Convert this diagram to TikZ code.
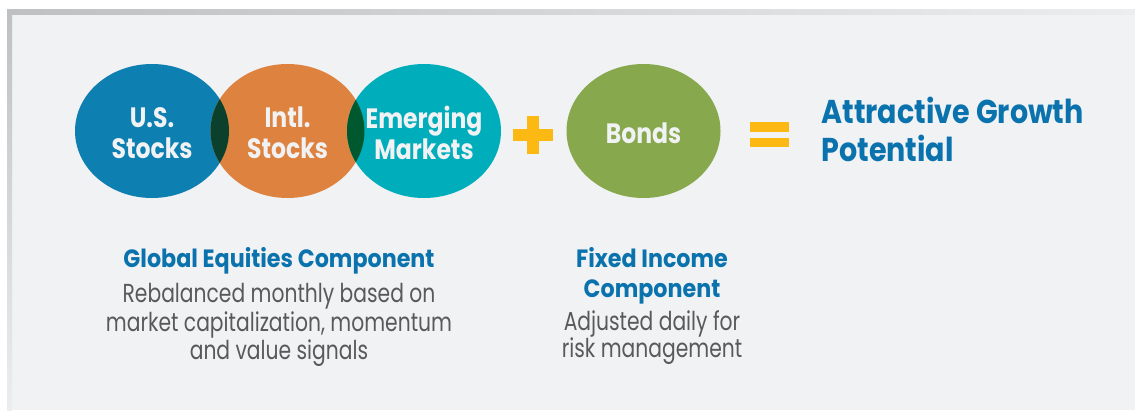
\documentclass[tikz,border=0pt]{standalone}
\usepackage{fontspec}
\usepackage[usenames,dvipsnames]{xcolor}
\setmainfont{Poppins}
\newfontfamily\circfont[FakeStretch=0.84]{Poppins}
\newfontfamily\headfont[FakeStretch=0.89]{Poppins}
\newfontfamily\titlefont[FakeStretch=0.865]{Poppins}
\newfontfamily\bodyfont[FakeStretch=0.78]{Poppins}
\usetikzlibrary{shapes.geometric}
\definecolor{panelgray}{HTML}{F1F2F4}
\definecolor{edgedark}{HTML}{BFC0C2}
\definecolor{edgelight}{HTML}{ECEDEF}
\definecolor{usblue}{HTML}{0D7FB1}
\definecolor{intlorange}{HTML}{DE8240}
\definecolor{emteal}{HTML}{00ADBB}
\definecolor{bondgreen}{HTML}{88A84E}
\definecolor{lensone}{HTML}{0B412C}
\definecolor{lenstwo}{HTML}{00582F}
\definecolor{signyellow}{HTML}{FDB913}
\definecolor{headblue}{HTML}{0A72AD}
\definecolor{bodygray}{HTML}{58595B}
\tikzset{
	fund/.style={ellipse, minimum width=154pt, minimum height=134pt, inner sep=0pt},
	fundtext/.style={align=center, yshift=-2pt, text=panelgray, font={\circfont\bfseries\fontsize{28}{31}\selectfont}},
	headline/.style={anchor=base, text=headblue, font={\headfont\bfseries\fontsize{25}{30}\selectfont}},
	bodyline/.style={anchor=base, text=bodygray, font={\bodyfont\fontsize{26}{28}\selectfont}},
	titleline/.style={anchor=base west, text=headblue, font={\titlefont\bfseries\fontsize{33}{38}\selectfont}}
}

\begin{document}
\begin{tikzpicture}[x=1pt, y=-1pt]
		\useasboundingbox[fill=white] (0, 0) rectangle (1135, 410);
		\fill[panelgray] (7, 9) rectangle (1135, 410);
		\shade[left color=edgedark, right color=edgelight] (7, 9) rectangle (1135, 14);
		\shade[top color=edgedark, bottom color=edgelight] (7, 9) rectangle (12, 410);
		%%%%%%%
		\node(us)[fund, fill=usblue] at (152, 131) {};
		\node(intl)[fund, fill=intlorange] at (287.5, 131) {};
		\node(em)[fund, fill=emteal] at (424, 131) {};
		\begin{scope}
			\clip (us.center) ellipse [x radius=77, y radius=67];
			\fill[lensone] (intl.center) ellipse [x radius=77, y radius=67];
		\end{scope}
		\begin{scope}
			\clip (intl.center) ellipse [x radius=77, y radius=67];
			\fill[lenstwo] (em.center) ellipse [x radius=77, y radius=67];
		\end{scope}
		\node(uslabel)[fundtext] at (us.center) {U.S.\\Stocks};
		\node(intllabel)[fundtext] at (intl.center) {Intl.\\Stocks};
		\node(emlabel)[fundtext] at (em.center) {Emerging\\Markets};
		%%%%%%%
		\fill[signyellow] (513, 129) rectangle (553, 141);
		\fill[signyellow] (527, 116) rectangle (539, 154);
		\node(bonds)[fund, fill=bondgreen] at (643.5, 131) {};
		\node(bondslabel)[fundtext] at (bonds.center) {Bonds};
		\fill[signyellow] (750, 122) rectangle (789, 132);
		\fill[signyellow] (750, 138) rectangle (789, 147);
		%%%%%%%
		\node(title1)[titleline] at (818, 123) {Attractive Growth};
		\node(title2)[titleline] at (818, 161) {Potential};
		%%%%%%%
		\node(eqhead)[headline] at (279, 267) {Global Equities Component};
		\node(eqbody1)[bodyline] at (279, 302) {Rebalanced monthly based on};
		\node(eqbody2)[bodyline] at (279, 331) {market capitalization, momentum};
		\node(eqbody3)[bodyline] at (279, 359) {and value signals};
		%%%%%%%
		\node(fihead1)[headline] at (652, 267) {Fixed Income};
		\node(fihead2)[headline] at (652, 297) {Component};
		\node(fibody1)[bodyline] at (652, 330) {Adjusted daily for};
		\node(fibody2)[bodyline] at (652, 357) {risk management};
\end{tikzpicture}
\end{document}
